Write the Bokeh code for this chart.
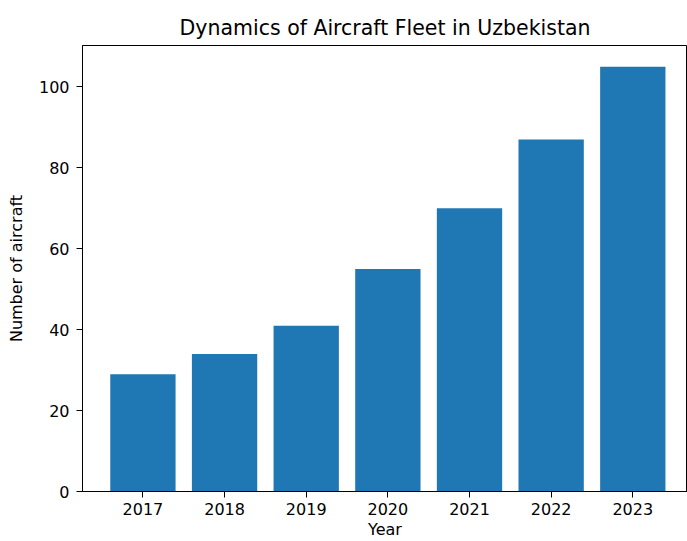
from bokeh.plotting import figure
from bokeh.models import Range1d, FixedTicker
from bokeh.embed import file_html
from bokeh.resources import INLINE

years = ["2017", "2018", "2019", "2020", "2021", "2022", "2023"]
aircraft = [29, 34, 41, 55, 70, 87, 105]
y_ticks = [0, 20, 40, 60, 80, 100]

xs = list(range(len(years)))
FONT = "DejaVu Sans"

p = figure(width=687, height=541, output_backend="svg", toolbar_location=None,
           x_range=Range1d(-0.74, 6.67), y_range=Range1d(0, 110.25),
           title="Dynamics of Aircraft Fleet in Uzbekistan",
           min_border_left=82, min_border_right=0, min_border_top=45, min_border_bottom=50)

p.vbar(x=xs, top=aircraft, width=0.8, color="#1f77b4", line_color=None)

p.title.align = "center"
p.title.text_font = FONT
p.title.text_font_size = "20.5px"
p.title.text_font_style = "normal"
p.title.text_color = "black"
p.title.standoff = 12

p.xgrid.visible = False
p.ygrid.visible = False
p.outline_line_color = "black"
p.outline_line_width = 1
p.outline_line_alpha = 1
p.background_fill_color = "white"
p.border_fill_color = "white"

p.xaxis.ticker = FixedTicker(ticks=xs)
p.xaxis.major_label_overrides = {i: y for i, y in enumerate(years)}
p.yaxis.ticker = FixedTicker(ticks=y_ticks)
p.xaxis.axis_label = "Year"
p.yaxis.axis_label = "Number of aircraft"

for ax in (p.xaxis, p.yaxis):
    ax.axis_line_color = "black"
    ax.major_tick_line_color = "black"
    ax.major_tick_out = 6
    ax.major_tick_in = 0
    ax.minor_tick_line_color = None
    ax.major_label_text_font = FONT
    ax.major_label_text_font_size = "16px"
    ax.major_label_text_color = "black"
    ax.axis_label_text_font = FONT
    ax.axis_label_text_font_size = "16px"
    ax.axis_label_text_font_style = "normal"
    ax.axis_label_text_color = "black"

p.xaxis.major_label_standoff = 5
p.xaxis.axis_label_standoff = 2
p.yaxis.major_label_standoff = 7
p.yaxis.axis_label_standoff = 10

open("out.html", "w").write(file_html(p, INLINE))
